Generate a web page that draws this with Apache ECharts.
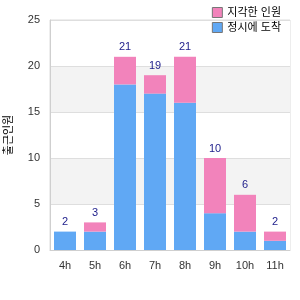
<!DOCTYPE html>
<html>
<head>
<meta charset="utf-8">
<script src="https://cdn.jsdelivr.net/npm/echarts@6/dist/echarts.min.js"></script>
<style>
  html, body { margin: 0; padding: 0; background: #fff; }
  #main { width: 300px; height: 300px; }
</style>
</head>
<body>
<div id="main"></div>
<script>
// data
const hours = ["4h", "5h", "6h", "7h", "8h", "9h", "10h", "11h"];
const blueVals = [2, 2, 18, 17, 16, 4, 2, 1];
const pinkVals = [0, 1, 3, 2, 5, 6, 4, 1];
const seriesNames = ["정시에 도착", "지각한 인원"];
const yName = "출근인원";

const totals = hours.map((h, i) => blueVals[i] + pinkVals[i]);

const chart = echarts.init(document.getElementById("main"));

const font = "Arial, 'Liberation Sans', 'Noto Sans CJK KR', sans-serif";

const option = {
  animation: false,
  textStyle: { fontFamily: font },
  legend: {
    data: [seriesNames[1], seriesNames[0]],
    orient: "vertical",
    right: 14,
    top: 2,
    itemWidth: 10,
    itemHeight: 10,
    itemGap: 4,
    icon: "rect",
    itemStyle: { borderColor: "#777", borderWidth: 1 },
    textStyle: { fontSize: 11, color: "#000", fontFamily: font },
  },
  grid: {
    left: 50,
    right: 10,
    top: 20,
    bottom: 50,
    outerBoundsMode: "none",
    show: true,
    borderColor: "#dcdcdc",
    borderWidth: 1,
  },
  xAxis: {
    type: "category",
    data: hours,
    axisLine: { lineStyle: { color: "#cfcfcf" } },
    axisTick: { show: false },
    axisLabel: { color: "#333", fontSize: 11, margin: 10 },
  },
  yAxis: {
    type: "value",
    min: 0,
    max: 25,
    interval: 5,
    name: yName,
    nameLocation: "middle",
    nameGap: 36,
    nameRotate: 90,
    nameTextStyle: { color: "#000", fontSize: 11 },
    axisLine: { show: true, lineStyle: { color: "#cfcfcf" } },
    axisLabel: { color: "#333", fontSize: 11, margin: 10 },
    splitLine: { lineStyle: { color: "#dedede" } },
    splitArea: { show: true, areaStyle: { color: ["#ffffff", "#f3f3f3"] } },
  },
  series: [
    {
      name: seriesNames[0],
      type: "bar",
      stack: "total",
      barWidth: 22,
      data: blueVals,
      itemStyle: { color: "#60a8f4" },
    },
    {
      name: seriesNames[1],
      type: "bar",
      stack: "total",
      barWidth: 22,
      data: pinkVals,
      itemStyle: { color: "#f283bb" },
      label: {
        show: true,
        position: "top",
        distance: 4,
        color: "#1c1c8a",
        fontSize: 11,
        formatter: (p) => totals[p.dataIndex],
      },
    },
  ],
};

chart.setOption(option);
</script>
</body>
</html>
